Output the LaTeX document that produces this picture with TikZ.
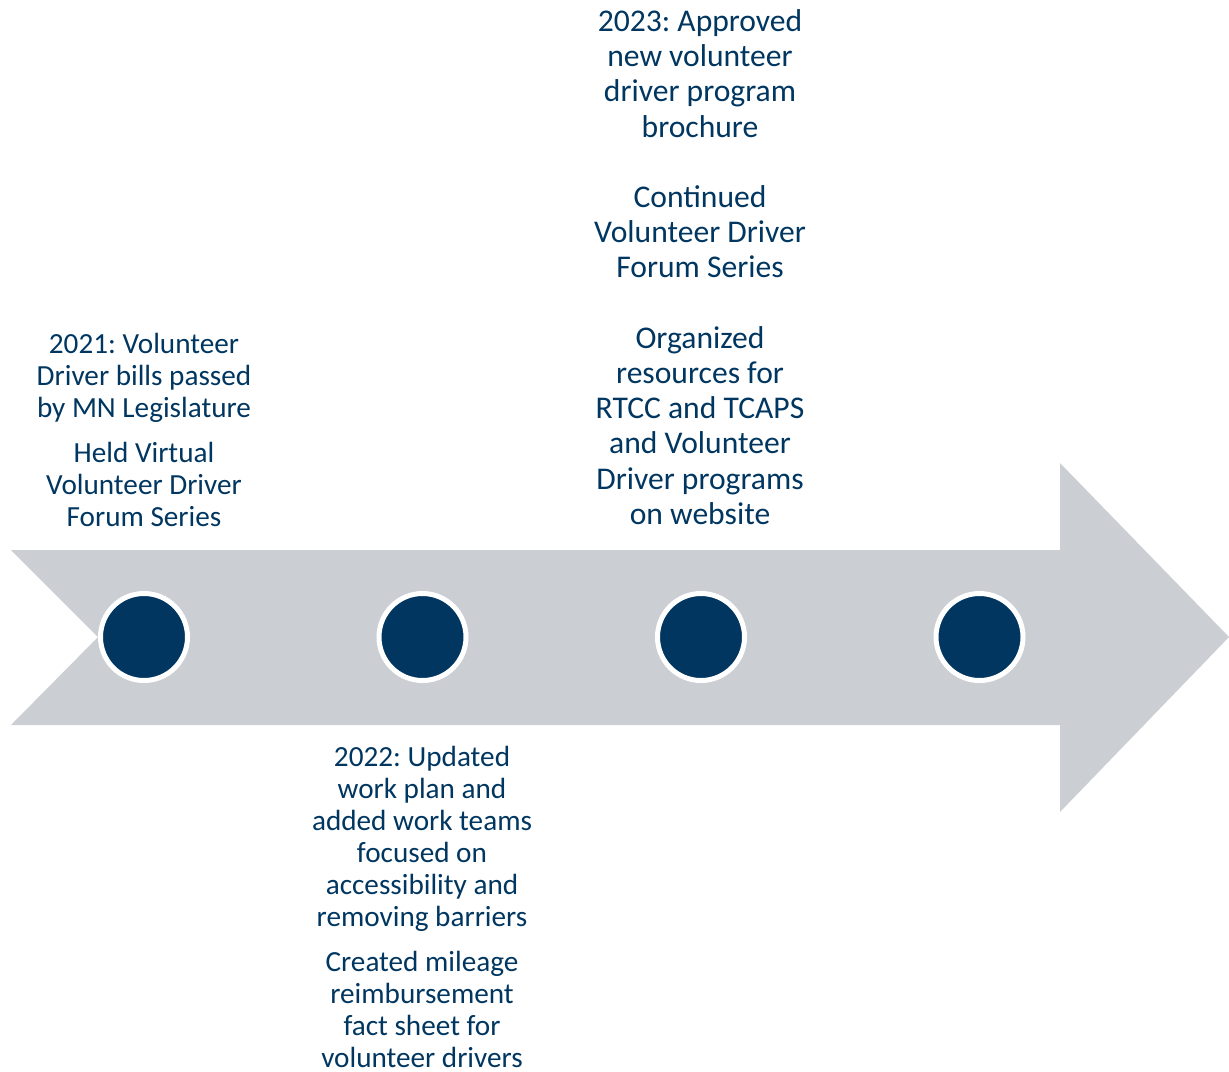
\documentclass[tikz,border=0pt]{standalone}
\usepackage{fontspec}
\setmainfont{Carlito}
\usetikzlibrary{positioning}
\frenchspacing

\definecolor{navy}{HTML}{003660}
\definecolor{band}{HTML}{CBCED3}

\begin{document}
\begin{tikzpicture}[x=0.5pt,y=-0.5pt,node distance=139.25pt,on grid,
    dot/.style={circle,fill=navy,draw=white,line width=2.5pt,minimum size=43.5pt,inner sep=0pt},
    note/.style={text=navy,align=center,inner sep=0pt,font=\fontsize{14.6}{16}\selectfont},
    bignote/.style={note,font=\fontsize{15.8}{17.6}\selectfont}]
    \useasboundingbox (0,0) rectangle (1229,1071);
    % timeline arrow
    \fill[band] (11,550) -- (1060,550) -- (1060,463) -- (1229,637) -- (1060,812)
        -- (1060,725) -- (11,725) -- (98,637) -- cycle;
    \node[dot] (d_1) at (144,637) {};
    \node[dot] [right=of d_1] (d_2) {};
    \node[dot] [right=of d_2] (d_3) {};
    \node[dot] [right=of d_3] (d_4) {};
    % years
    \node[note,anchor=south] (y_2021) at (144,527) {2021: Volunteer\\Driver bills passed\\by MN Legislature\\[6.5pt]
        Held Virtual\\Volunteer Driver\\Forum Series};
    \node[note,anchor=north] (y_2022) at (422,746) {2022: Updated\\work plan and\\added work teams\\focused on\\accessibility and\\removing barriers\\[6.5pt]
        Created mileage\\reimbursement\\fact sheet for\\volunteer drivers};
    \node[bignote,anchor=south] (y_2023) at (700,525) {2023: Approved\\new volunteer\\driver program\\brochure\\[17.6pt]
        Continued\\Volunteer Driver\\Forum Series\\[17.6pt]
        Organized\\resources for\\RTCC and TCAPS\\and Volunteer\\Driver programs\\on website};
\end{tikzpicture}
\end{document}
